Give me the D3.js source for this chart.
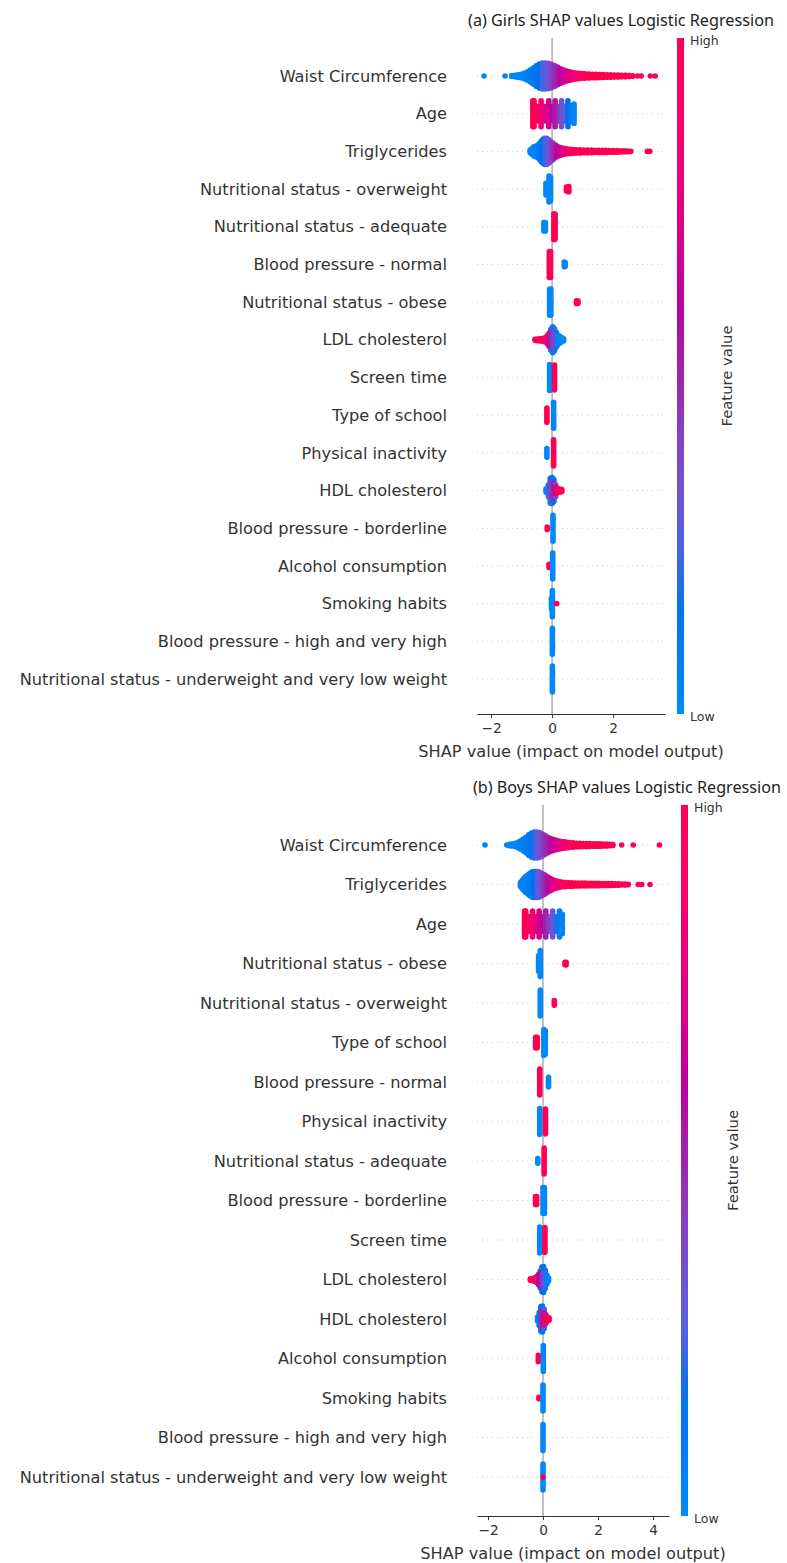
<!DOCTYPE html>
<html>
<head>
<meta charset="utf-8">
<script src="https://cdn.jsdelivr.net/npm/d3@7"></script>
<style>
  html, body { margin: 0; padding: 0; background: #ffffff; }
  svg { display: block; }
</style>
</head>
<body>
<svg id="chart" width="787" height="1563"></svg>
<script>
// ---------------------------------------------------------------
// SHAP summary (beeswarm) data.
// Each pile is [SHAP value, relative point density (0..1), feature value (0 = low, 1 = high)].
// ---------------------------------------------------------------

const girlsTitle = "(a) Girls SHAP values Logistic Regression";
const boysTitle = "(b) Boys SHAP values Logistic Regression";
const xAxisTitle = "SHAP value (impact on model output)";
const colorbarTitle = "Feature value";
const colorbarTicks = ["Low", "High"];

const girlsTicks = [-2, 0, 2];
const boysTicks = [-2, 0, 2, 4];

const girlsFeatures = [
  "Waist Circumference", "Age", "Triglycerides",
  "Nutritional status - overweight", "Nutritional status - adequate",
  "Blood pressure - normal", "Nutritional status - obese", "LDL cholesterol",
  "Screen time", "Type of school", "Physical inactivity", "HDL cholesterol",
  "Blood pressure - borderline", "Alcohol consumption", "Smoking habits",
  "Blood pressure - high and very high",
  "Nutritional status - underweight and very low weight"
];

const boysFeatures = [
  "Waist Circumference", "Triglycerides", "Age",
  "Nutritional status - obese", "Nutritional status - overweight",
  "Type of school", "Blood pressure - normal", "Physical inactivity",
  "Nutritional status - adequate", "Blood pressure - borderline",
  "Screen time", "LDL cholesterol", "HDL cholesterol",
  "Alcohol consumption", "Smoking habits",
  "Blood pressure - high and very high",
  "Nutritional status - underweight and very low weight"
];

// ---- Girls ----
const gWaist = [
  [-2.23,0,0.02],[-1.54,0,0.03],[-1.32,0.04,0.04],[-1.22,0.06,0.05],[-1.12,0.1,0.05],
  [-1.02,0.14,0.06],[-0.92,0.2,0.07],[-0.82,0.3,0.08],[-0.72,0.45,0.1],[-0.62,0.62,0.12],
  [-0.52,0.78,0.15],[-0.42,0.92,0.18],[-0.32,1,0.22],[-0.22,1,0.27],[-0.12,0.97,0.33],
  [-0.02,0.9,0.4],[0.08,0.8,0.47],[0.18,0.68,0.54],[0.28,0.56,0.6],[0.38,0.46,0.66],
  [0.48,0.38,0.72],[0.58,0.32,0.78],[0.68,0.27,0.83],[0.78,0.23,0.88],[0.88,0.2,0.92],
  [0.98,0.18,0.95],[1.08,0.16,0.97],[1.2,0.15,0.98],[1.32,0.14,1],[1.44,0.13,1],
  [1.56,0.12,1],[1.68,0.11,1],[1.8,0.1,1],[1.92,0.09,1],[2.04,0.08,1],[2.16,0.07,1],
  [2.28,0.06,1],[2.4,0.05,1],[2.52,0.03,1],[2.64,0.02,1],[2.8,0,1],[2.92,0,1],
  [3.22,0,1],[3.38,0,1]
];
const gAge = [
  [-0.63,1,1],[-0.59,1,1],[-0.485,0.55,0.95],
  [-0.36,1,0.86],[-0.235,0.55,0.78],
  [-0.11,1,0.7],[-0.005,0.55,0.62],
  [0.1,1,0.54],[0.205,0.55,0.46],
  [0.31,1,0.36],[0.415,0.55,0.28],
  [0.52,1,0.18],[0.62,0.6,0.1],
  [0.72,0.75,0.04]
];
const gTrig = [
  [-0.72,0.1,0.05],[-0.66,0.22,0.05],[-0.6,0.35,0.06],[-0.54,0.4,0.07],[-0.48,0.45,0.08],
  [-0.42,0.6,0.1],[-0.36,0.78,0.13],[-0.3,0.92,0.16],[-0.24,1,0.2],[-0.18,1,0.25],
  [-0.12,0.92,0.3],[-0.06,0.8,0.36],[0,0.68,0.42],[0.06,0.56,0.48],[0.12,0.46,0.54],
  [0.18,0.38,0.6],[0.26,0.3,0.66],[0.34,0.25,0.72],[0.42,0.21,0.78],[0.5,0.18,0.84],
  [0.6,0.16,0.9],[0.7,0.14,0.94],[0.8,0.13,0.97],[0.92,0.12,1],[1.04,0.11,1],
  [1.16,0.1,1],[1.28,0.1,1],[1.4,0.09,1],[1.52,0.09,1],[1.64,0.08,1],[1.76,0.08,1],
  [1.88,0.07,1],[2,0.07,1],[2.12,0.06,1],[2.24,0.05,1],[2.36,0.04,1],[2.48,0.03,1],
  [2.58,0,1],[3.12,0,1],[3.2,0,1]
];
const gOverweight = [[-0.2,0.45,0.02],[-0.1,1,0.02],[-0.05,0.9,0.02],[0.47,0.15,1],[0.55,0.2,1]];
const gAdequate = [[-0.27,0.33,0.02],[-0.22,0.33,0.02],[0.06,1,1],[0.1,0.95,1]];
const gBPNormal = [[-0.09,1,1],[-0.05,1,1],[0.4,0.18,0.02],[0.43,0.15,0.02]];
const gObese = [[-0.08,1,0.02],[-0.04,1,0.02],[0.8,0.1,1],[0.85,0.08,1]];
const gLDL = [
  [-0.56,0.04,1],[-0.48,0.06,1],[-0.4,0.08,1],[-0.32,0.1,1],[-0.24,0.15,0.95],
  [-0.16,0.3,0.85],[-0.1,0.5,0.7],[-0.04,0.8,0.1],[-0.04,0.6,0.55],[0.02,1,0.1],
  [0.02,0.75,0.45],[0.08,0.85,0.1],[0.08,0.6,0.4],[0.14,0.55,0.15],[0.14,0.35,0.35],
  [0.2,0.35,0.05],[0.26,0.25,0.03],[0.32,0.15,0.02],[0.38,0.08,0.02]
];
const gScreen = [[-0.08,1,0.02],[0.08,0.95,1]];
const gSchool = [[-0.17,0.55,1],[0.05,1,0.02]];
const gInactivity = [[-0.17,0.33,0.02],[0.05,1,1]];
const gHDL = [
  [-0.2,0.12,0.05],[-0.12,0.45,0.08],[-0.06,0.95,0.1],[-0.06,0.6,0.4],[0,1,0.12],
  [0,0.75,0.45],[0.06,0.85,0.15],[0.06,0.55,0.55],[0.12,0.45,0.3],[0.12,0.25,0.7],
  [0.18,0.15,0.95],[0.25,0.12,1],[0.32,0.08,1]
];
const gBorderline = [[-0.16,0.1,1],[0.03,1,0.02]];
const gAlcohol = [[-0.1,0.12,1],[0.02,1,0.02]];
const gSmoking = [[-0.02,0.4,0.02],[0.01,1,0.02],[0.15,0,1]];
const gBPHigh = [[0.01,1,0.02]];
const gUnderweight = [[0.01,1,0.02]];

const girlsRows = [gWaist, gAge, gTrig, gOverweight, gAdequate, gBPNormal, gObese, gLDL,
  gScreen, gSchool, gInactivity, gHDL, gBorderline, gAlcohol, gSmoking, gBPHigh, gUnderweight];

// ---- Boys ----
const bWaist = [
  [-2.11,0,0.02],[-1.32,0,0.03],[-1.22,0.05,0.04],[-1.12,0.08,0.05],[-1.02,0.12,0.05],
  [-0.92,0.2,0.06],[-0.82,0.3,0.07],[-0.72,0.45,0.08],[-0.62,0.6,0.1],[-0.52,0.78,0.12],
  [-0.42,0.92,0.15],[-0.32,1,0.2],[-0.22,1,0.27],[-0.12,0.95,0.33],[-0.02,0.85,0.4],
  [0.08,0.72,0.46],[0.18,0.6,0.52],[0.28,0.5,0.58],[0.38,0.42,0.64],[0.48,0.36,0.7],
  [0.58,0.31,0.76],[0.68,0.27,0.82],[0.78,0.24,0.87],[0.88,0.21,0.91],[0.98,0.18,0.94],
  [1.1,0.16,0.97],[1.22,0.14,1],[1.34,0.13,1],[1.46,0.12,1],[1.58,0.12,1],[1.7,0.11,1],
  [1.82,0.1,1],[1.94,0.1,1],[2.06,0.09,1],[2.18,0.08,1],[2.3,0.07,1],[2.42,0.05,1],
  [2.54,0.03,1],[2.86,0,1],[3.28,0,1],[4.23,0,1]
];
const bTrig = [
  [-0.82,0.15,0.04],[-0.76,0.3,0.05],[-0.7,0.45,0.05],[-0.64,0.6,0.06],[-0.58,0.68,0.07],
  [-0.52,0.78,0.08],[-0.46,0.88,0.1],[-0.4,0.95,0.12],[-0.34,1,0.15],[-0.28,1,0.18],
  [-0.22,1,0.22],[-0.16,0.98,0.27],[-0.1,0.92,0.32],[-0.04,0.85,0.38],[0.02,0.78,0.43],
  [0.08,0.7,0.48],[0.14,0.62,0.53],[0.2,0.54,0.58],[0.26,0.46,0.63],[0.32,0.4,0.68],
  [0.38,0.34,0.73],[0.46,0.28,0.79],[0.54,0.24,0.85],[0.62,0.2,0.9],[0.72,0.17,0.94],
  [0.82,0.15,0.97],[0.94,0.14,1],[1.06,0.13,1],[1.18,0.12,1],[1.3,0.12,1],[1.42,0.11,1],
  [1.54,0.11,1],[1.66,0.1,1],[1.78,0.1,1],[1.9,0.09,1],[2.02,0.09,1],[2.14,0.08,1],
  [2.26,0.08,1],[2.38,0.07,1],[2.5,0.07,1],[2.62,0.06,1],[2.74,0.05,1],[2.86,0.04,1],
  [2.98,0.03,1],[3.1,0.02,1],[3.46,0,1],[3.59,0,1],[3.89,0,1]
];
const bAge = [
  [-0.67,1,1],[-0.63,1,1],[-0.515,0.55,0.94],
  [-0.38,1,0.86],[-0.26,0.55,0.78],
  [-0.14,1,0.7],[-0.02,0.55,0.6],
  [0.1,1,0.5],[0.225,0.55,0.42],
  [0.35,1,0.32],[0.475,0.55,0.2],
  [0.6,1,0.1],[0.7,0.75,0.04]
];
const bObese = [[-0.16,0.6,0.02],[-0.1,1,0.02],[0.8,0.1,1],[0.84,0.1,1]];
const bOverweight = [[-0.1,1,0.02],[0.41,0.18,1]];
const bSchool = [[-0.27,0.4,1],[-0.21,0.4,1],[0.03,1,0.02],[0.08,0.9,0.02]];
const bBPNormal = [[-0.12,1,1],[0.2,0.37,0.02]];
const bInactivity = [[-0.12,1,0.02],[0.09,0.95,1]];
const bAdequate = [[-0.19,0.18,0.02],[0.04,1,1]];
const bBorderline = [[-0.27,0.31,1],[-0.23,0.31,1],[0,1,0.02],[0.05,1,0.02]];
const bScreen = [[-0.12,1,0.02],[0.07,0.95,1]];
const bLDL = [
  [-0.46,0.05,1],[-0.4,0.08,1],[-0.34,0.1,1],[-0.28,0.15,0.95],[-0.22,0.25,0.85],
  [-0.16,0.4,0.7],[-0.1,0.65,0.12],[-0.1,0.45,0.6],[-0.04,0.95,0.12],[-0.04,0.6,0.5],
  [0.02,1,0.15],[0.02,0.65,0.4],[0.08,0.7,0.12],[0.08,0.4,0.35],[0.14,0.35,0.08],
  [0.2,0.12,0.04]
];
const bHDL = [
  [-0.2,0.15,0.05],[-0.14,0.5,0.1],[-0.08,0.95,0.12],[-0.08,0.6,0.45],[-0.02,1,0.15],
  [-0.02,0.7,0.55],[0.04,0.75,0.2],[0.04,0.45,0.7],[0.1,0.35,0.5],[0.1,0.2,0.9],
  [0.16,0.15,1],[0.22,0.1,1]
];
const bAlcohol = [[-0.17,0.25,1],[0.01,1,0.02]];
const bSmoking = [[-0.15,0.05,1],[0,1,0.02]];
const bBPHigh = [[0,1,0.02]];
const bUnderweight = [[0,1,0.02],[0,0,1]];

const boysRows = [bWaist, bTrig, bAge, bObese, bOverweight, bSchool, bBPNormal, bInactivity,
  bAdequate, bBorderline, bScreen, bLDL, bHDL, bAlcohol, bSmoking, bBPHigh, bUnderweight];

// ---------------------------------------------------------------
// Red-blue colour map (LCh path from blue to red, dipping in lightness)
// ---------------------------------------------------------------
function lab2rgb(L, a, b) {
  const fy = (L + 16) / 116, fx = a / 500 + fy, fz = fy - b / 200;
  const inv = t => (t > 0.2068966 ? t * t * t : (t - 16 / 116) / 7.787);
  const X = 0.95047 * inv(fx), Y = 1.0 * inv(fy), Z = 1.08883 * inv(fz);
  const r = 3.2406 * X - 1.5372 * Y - 0.4986 * Z;
  const g = -0.9689 * X + 1.8758 * Y + 0.0415 * Z;
  const bl = 0.0557 * X - 0.2040 * Y + 1.0570 * Z;
  const gam = v => {
    v = v > 0.0031308 ? 1.055 * Math.pow(v, 1 / 2.4) - 0.055 : 12.92 * v;
    return Math.round(Math.max(0, Math.min(1, v)) * 255);
  };
  return d3.rgb(gam(r), gam(g), gam(bl)).formatHex();
}
function redBlue(t) {
  const L = t < 0.5 ? 54 + (40 - 54) * (t / 0.5) : 40 + (54 - 40) * ((t - 0.5) / 0.5);
  const C = 70 + (90 - 70) * t;
  const H = 4.6588 + (0.35470565 + 2 * Math.PI - 4.6588) * t;
  return lab2rgb(L, C * Math.cos(H), C * Math.sin(H));
}

// ---------------------------------------------------------------
// Drawing
// ---------------------------------------------------------------
const R = 2.8;          // dot radius
const MAX_HALF = 13;    // half-height of the densest pile in a row
const FONT = "'DejaVu Sans', sans-serif";
const TEXT = "#333333";

const svg = d3.select("#chart");
const defs = svg.append("defs");
const grad = defs.append("linearGradient").attr("id", "redBlueGrad")
  .attr("x1", 0).attr("y1", 1).attr("x2", 0).attr("y2", 0);
d3.range(0, 21).forEach(i => {
  const t = i / 20;
  grad.append("stop").attr("offset", t).attr("stop-color", redBlue(t));
});

const panels = [
  { title: girlsTitle, features: girlsFeatures, rows: girlsRows, ticks: girlsTicks,
    domain: [-2.46, 3.7], xRange: [477, 665], yRange: [76, 679], axisY: 714, top: 38,
    barX: 677, labelX: 727, titleX: 621, titleY: 26 },
  { title: boysTitle, features: boysFeatures, rows: boysRows, ticks: boysTicks,
    domain: [-2.4, 4.58], xRange: [477, 669], yRange: [845, 1477], axisY: 1516, top: 805,
    barX: 681, labelX: 733, titleX: 627, titleY: 793 }
];

panels.forEach(p => {
  const g = svg.append("g");
  const x = d3.scaleLinear().domain(p.domain).range(p.xRange);
  const y = d3.scalePoint().domain(p.features).range(p.yRange);

  // dotted row guides
  g.append("g").selectAll("line").data(p.features).join("line")
    .attr("x1", p.xRange[0]).attr("x2", p.xRange[1])
    .attr("y1", d => y(d)).attr("y2", d => y(d))
    .attr("stroke", "#cccccc").attr("stroke-width", 1)
    .attr("stroke-dasharray", "1,4");

  // zero line
  g.append("line")
    .attr("x1", x(0)).attr("x2", x(0))
    .attr("y1", p.top).attr("y2", p.axisY)
    .attr("stroke", "#999999").attr("stroke-width", 1.2);

  // beeswarm piles: each pile is a vertical stack of dots
  p.features.forEach((f, i) => {
    const cy = y(f);
    g.append("g").selectAll("rect").data(p.rows[i]).join("rect")
      .attr("x", d => x(d[0]) - R)
      .attr("y", d => cy - d[1] * MAX_HALF - R)
      .attr("width", 2 * R)
      .attr("height", d => 2 * d[1] * MAX_HALF + 2 * R)
      .attr("rx", R).attr("ry", R)
      .attr("fill", d => redBlue(d[2]));
  });

  // feature labels
  g.append("g").selectAll("text").data(p.features).join("text")
    .attr("x", 447).attr("y", d => y(d)).attr("dy", "0.35em")
    .attr("text-anchor", "end")
    .style("font-family", FONT).style("font-size", "16.2px")
    .attr("fill", TEXT).text(d => d);

  // x axis
  const axis = d3.axisBottom(x).tickValues(p.ticks).tickFormat(d3.format("d"))
    .tickSize(4).tickSizeOuter(0).tickPadding(5);
  const ag = g.append("g").attr("transform", `translate(0,${p.axisY})`).call(axis);
  ag.select(".domain").attr("stroke", TEXT).attr("stroke-width", 1.1);
  ag.selectAll(".tick line").attr("stroke", TEXT);
  ag.selectAll(".tick text").attr("fill", TEXT)
    .style("font-family", FONT).style("font-size", "13.7px");

  g.append("text")
    .attr("x", (p.xRange[0] + p.xRange[1]) / 2).attr("y", p.axisY + 37).attr("dy", "0.35em")
    .attr("text-anchor", "middle")
    .style("font-family", FONT).style("font-size", "16.2px")
    .attr("fill", TEXT).text(xAxisTitle);

  // colour bar
  g.append("rect")
    .attr("x", p.barX).attr("y", p.top)
    .attr("width", 7).attr("height", p.axisY - p.top)
    .attr("fill", "url(#redBlueGrad)");
  g.append("text").attr("x", p.barX + 13).attr("y", p.axisY + 3).attr("dy", "0.35em")
    .style("font-family", FONT).style("font-size", "12.5px").attr("fill", TEXT)
    .text(colorbarTicks[0]);
  g.append("text").attr("x", p.barX + 13).attr("y", p.top + 3).attr("dy", "0.35em")
    .style("font-family", FONT).style("font-size", "12.5px").attr("fill", TEXT)
    .text(colorbarTicks[1]);
  g.append("text")
    .attr("transform", `translate(${p.labelX},${(p.top + p.axisY) / 2}) rotate(-90)`)
    .attr("text-anchor", "middle").attr("dy", "0.35em")
    .style("font-family", FONT).style("font-size", "14.8px").attr("fill", TEXT)
    .text(colorbarTitle);

  // panel title
  g.append("text")
    .attr("x", p.titleX).attr("y", p.titleY)
    .attr("text-anchor", "middle")
    .style("font-family", "'Noto Sans', sans-serif").style("font-size", "16.2px")
    .attr("fill", "#222222").text(p.title);
});
</script>
</body>
</html>
